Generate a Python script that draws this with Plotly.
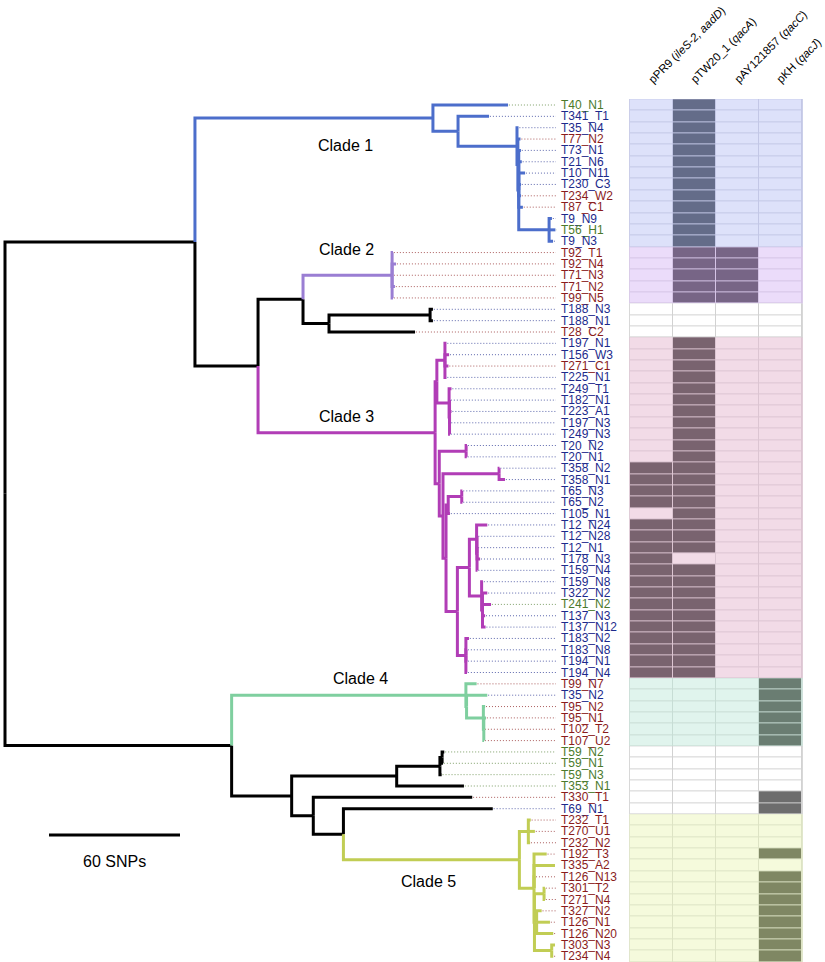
import plotly.graph_objects as go

# ---------------- data ----------------
LEAVES = [
    "T40_N1", "T341_T1", "T35_N4", "T77_N2", "T73_N1", "T21_N6", "T10_N11", "T230_C3", "T234_W2", "T87_C1", "T9_N9", "T56_H1", "T9_N3",
    "T92_T1", "T92_N4", "T71_N3", "T71_N2", "T99_N5",
    "T188_N3", "T188_N1", "T28_C2",
    "T197_N1", "T156_W3", "T271_C1", "T225_N1", "T249_T1", "T182_N1", "T223_A1", "T197_N3", "T249_N3", "T20_N2",
    "T20_N1", "T358_N2", "T358_N1", "T65_N3", "T65_N2", "T105_N1", "T12_N24", "T12_N28", "T12_N1", "T178_N3",
    "T159_N4", "T159_N8", "T322_N2", "T241_N2", "T137_N3", "T137_N12", "T183_N2", "T183_N8", "T194_N1", "T194_N4",
    "T99_N7", "T35_N2", "T95_N2", "T95_N1", "T102_T2", "T107_U2",
    "T59_N2", "T59_N1", "T59_N3", "T353_N1", "T330_T1", "T69_N1",
    "T232_T1", "T270_U1", "T232_N2", "T192_T3", "T335_A2", "T126_N13", "T301_T2", "T271_N4", "T327_N2", "T126_N1",
    "T126_N20", "T303_N3", "T234_N4",
]
LEAF_PARENT = [
    "C1", "C1b", "C1c", "C1x", "C1w", "C1w", "C1w", "C1w", "C1w", "C1w", "C1d", "C1d", "C1d",
    "C2", "C2", "C2", "C2", "C2",
    "F", "F", "E",
    "G1", "G1", "G1", "G1", "G2", "G2b", "G2b", "G2b", "G2b", "T20n",
    "T20n", "T358n", "T358n", "T65n", "T65n", "M", "R1", "R1b", "R1b", "R1b",
    "R1b", "R2", "R2b", "R2b", "R2b", "R2b", "S", "S", "S", "S",
    "C4", "C4a", "C4b", "C4c", "C4c", "C4c",
    "T59nb", "T59nb", "T59n", "DD", "EE", "FF",
    "C5a", "C5a", "C5a", "C5b", "C5b", "C5b", "T301n", "T301n", "LG", "LG",
    "LG", "T303n", "T303n",
]
# distance from root, in SNPs
LEAF_DEPTH = [
    230.4, 221.7, 235.2, 236.1, 236.3, 236.7, 238.2, 236.3, 236.3, 237.2, 250.5, 252.1, 251.0,
    177.7, 179.1, 177.7, 178.6, 177.7,
    196.0, 196.0, 187.8,
    202.2, 203.4, 203.1, 202.2, 204.5, 203.8, 204.5, 204.0, 203.8, 211.6,
    211.5, 226.5, 229.0, 209.5, 209.5, 203.8, 220.9, 216.4, 216.3, 217.6,
    216.4, 218.9, 220.9, 222.6, 219.9, 220.1, 212.5, 211.6, 211.6, 211.6,
    216.0, 220.9, 219.9, 220.3, 219.4, 219.4,
    201.2, 200.6, 200.0, 210.2, 214.0, 223.4,
    240.8, 242.7, 240.5, 248.1, 251.9, 242.8, 247.3, 247.3, 245.8, 249.6,
    251.1, 251.9, 251.1,
]
# b = blue, r = red, g = green label
LEAF_ORIGIN = [
    "g", "b", "b", "r", "b", "b", "b", "b", "r", "r", "b", "g", "b",
    "r", "r", "r", "r", "r",
    "b", "b", "r",
    "b", "b", "r", "b", "b", "b", "b", "b", "b", "b",
    "b", "b", "b", "b", "b", "b", "b", "b", "b", "b",
    "b", "b", "b", "g", "b", "b", "b", "b", "b", "b",
    "r", "b", "r", "r", "r", "r",
    "g", "g", "g", "g", "r", "b",
    "r", "r", "r", "r", "r", "r", "r", "r", "r", "r",
    "r", "r", "r",
]

INODES = ["root", "A", "C1", "C1b", "C1c", "C1x", "C1w", "C1d", "B", "D", "C2", "E", "F",
          "C3", "H", "G1", "G2", "G2b", "K", "T20n", "L", "T358n", "N", "M", "T65n", "P", "Q",
          "R1", "R1b", "R2", "R2b", "S", "BB", "C4", "C4a", "C4b", "C4c", "CC", "DD", "T59n",
          "T59nb", "EE", "FF", "C5", "C5a", "C5b", "X5", "T301n", "LG", "T303n"]
INODE_PARENT = [None, "root", "A", "C1", "C1b", "C1c", "C1x", "C1w", "A", "B", "D", "D", "E",
                "B", "C3", "H", "H", "G2", "C3", "K", "K", "L", "L", "N", "M", "N", "P",
                "Q", "R1", "Q", "R2", "P", "root", "BB", "C4", "C4a", "C4b", "BB", "CC", "DD",
                "T59n", "CC", "EE", "FF", "C5", "C5", "C5b", "X5", "X5", "X5"]
INODE_DEPTH = [0.0, 87.0, 196.0, 207.5, 234.5, 234.9, 235.3, 249.2, 115.9, 136.5, 177.3, 148.4, 194.7,
               197.0, 197.8, 201.5, 203.4, 203.6, 198.9, 211.2, 200.6, 226.3, 202.0, 203.0, 209.2, 207.2, 212.7,
               216.0, 216.2, 218.3, 218.7, 211.1, 103.8, 211.1, 211.4, 219.1, 219.3, 131.3, 179.4, 199.2,
               200.2, 141.2, 155.0, 235.6, 239.7, 242.3, 242.5, 246.9, 243.5, 250.4]

CLADE_ROOTS = ["C1", "C2", "C3", "C4", "C5"]
CLADE_NAMES = ["Clade 1", "Clade 2", "Clade 3", "Clade 4", "Clade 5"]
CLADE_COLORS = ["#4c6ecb", "#9a7ed3", "#b13db6", "#7fcf9f", "#c1cd54"]

ORIGIN_COLORS = {"b": "#1c2a8c", "r": "#8a1c1c", "g": "#4b7a2b"}

PLASMIDS = ["pPR9 (<i>ileS-2, aadD</i>)", "pTW20_1 (<i>qacA</i>)", "pAY121857 (<i>qacC</i>)", "pKH (<i>qacJ</i>)"]
PPR9 = [
    0, 0, 0, 0, 0, 0, 0, 0, 0, 0, 0, 0, 0,
    0, 0, 0, 0, 0,
    0, 0, 0,
    0, 0, 0, 0, 0, 0, 0, 0, 0, 0,
    0, 1, 1, 1, 1, 0, 1, 1, 1, 1,
    1, 1, 1, 1, 1, 1, 1, 1, 1, 1,
    0, 0, 0, 0, 0, 0,
    0, 0, 0, 0, 0, 0,
    0, 0, 0, 0, 0, 0, 0, 0, 0, 0,
    0, 0, 0,
]
PTW20 = [
    1, 1, 1, 1, 1, 1, 1, 1, 1, 1, 1, 1, 1,
    1, 1, 1, 1, 1,
    0, 0, 0,
    1, 1, 1, 1, 1, 1, 1, 1, 1, 1,
    1, 1, 1, 1, 1, 1, 1, 1, 1, 0,
    1, 1, 1, 1, 1, 1, 1, 1, 1, 1,
    0, 0, 0, 0, 0, 0,
    0, 0, 0, 0, 0, 0,
    0, 0, 0, 0, 0, 0, 0, 0, 0, 0,
    0, 0, 0,
]
PAY = [
    0, 0, 0, 0, 0, 0, 0, 0, 0, 0, 0, 0, 0,
    1, 1, 1, 1, 1,
    0, 0, 0,
    0, 0, 0, 0, 0, 0, 0, 0, 0, 0,
    0, 0, 0, 0, 0, 0, 0, 0, 0, 0,
    0, 0, 0, 0, 0, 0, 0, 0, 0, 0,
    0, 0, 0, 0, 0, 0,
    0, 0, 0, 0, 0, 0,
    0, 0, 0, 0, 0, 0, 0, 0, 0, 0,
    0, 0, 0,
]
PKH = [
    0, 0, 0, 0, 0, 0, 0, 0, 0, 0, 0, 0, 0,
    0, 0, 0, 0, 0,
    0, 0, 0,
    0, 0, 0, 0, 0, 0, 0, 0, 0, 0,
    0, 0, 0, 0, 0, 0, 0, 0, 0, 0,
    0, 0, 0, 0, 0, 0, 0, 0, 0, 0,
    1, 1, 1, 1, 1, 1,
    0, 0, 0, 0, 1, 1,
    0, 0, 0, 1, 0, 1, 1, 1, 1, 1,
    1, 1, 1,
]

# heatmap palette per group: 0 = no clade, 1..5 = clades
HM_BG = ["#ffffff", "#dde1fa", "#ebdcfa", "#f2dbe7", "#e0f4ed", "#f5fadc"]
HM_ON = ["#6d6d6d", "#646c89", "#776586", "#79636f", "#6a7d72", "#7f8763"]
HM_SEP = ["#d2d2d2", "#c3c7e6", "#d5c4e6", "#dcc5d2", "#c7ddd5", "#dde3c4"]

SCALE_SNPS = 60

# ---------------- layout helpers (pixel mapping) ----------------
PX_PER_SNP = 131.0 / 60.0
ROOT_PX = 5.0
ROW_PX = 11.35
FIRST_ROW_PX = 105.0
W, H = 825, 962
COL_W = 43.0
COL0_PX = 651.5

# ---------------- tree computations ----------------
parent = dict(zip(INODES, INODE_PARENT))
parent.update(dict(zip(LEAVES, LEAF_PARENT)))
depth = dict(zip(INODES, INODE_DEPTH))
depth.update(dict(zip(LEAVES, LEAF_DEPTH)))
leaf_idx = {n: i for i, n in enumerate(LEAVES)}
children = {n: [] for n in INODES}
for n, p in parent.items():
    if p is not None:
        children[p].append(n)

minleaf = {}
def get_min(n):
    if n in leaf_idx:
        return leaf_idx[n]
    if n not in minleaf:
        minleaf[n] = min(get_min(c) for c in children[n])
    return minleaf[n]

ypos = {}
def get_y(n):
    if n in leaf_idx:
        return float(leaf_idx[n])
    if n not in ypos:
        ch = sorted(children[n], key=get_min)
        ypos[n] = (get_y(ch[0]) + get_y(ch[-1])) / 2.0
    return ypos[n]

def clade_of(n):
    while n is not None:
        if n in CLADE_ROOTS:
            return CLADE_ROOTS.index(n) + 1
        n = parent[n]
    return 0

fig = go.Figure()

# branches
edge_x = {k: [] for k in range(6)}
edge_y = {k: [] for k in range(6)}
for n, p in parent.items():
    if p is None:
        continue
    k = clade_of(n)
    edge_x[k] += [depth[p], depth[p], depth[n], None]
    edge_y[k] += [get_y(p), get_y(n), get_y(n), None]

# leader lines
LEADER_END = (556.0 - ROOT_PX) / PX_PER_SNP
for o, col in ORIGIN_COLORS.items():
    lx, ly = [], []
    for i, n in enumerate(LEAVES):
        if LEAF_ORIGIN[i] == o:
            lx += [depth[n] + 0.4, LEADER_END, None]
            ly += [i, i, None]
    fig.add_trace(go.Scatter(x=lx, y=ly, mode="lines", line=dict(color=col, width=1, dash="1px,2px"),
                             opacity=0.7, hoverinfo="skip", showlegend=False))

for k in range(6):
    col = "#000000" if k == 0 else CLADE_COLORS[k - 1]
    fig.add_trace(go.Scatter(x=edge_x[k], y=edge_y[k], mode="lines",
                             line=dict(color=col, width=3), hoverinfo="skip", showlegend=False))

# scale bar
SCALE_X0 = (49.0 - ROOT_PX) / PX_PER_SNP
SCALE_Y = (835.0 - FIRST_ROW_PX) / ROW_PX
fig.add_trace(go.Scatter(x=[SCALE_X0, SCALE_X0 + SCALE_SNPS], y=[SCALE_Y, SCALE_Y], mode="lines",
                         line=dict(color="black", width=3), hoverinfo="skip", showlegend=False))

# heatmap
groups = [clade_of(n) for n in LEAVES]
cols = [PPR9, PTW20, PAY, PKH]
z = [[groups[i] * 2 + cols[j][i] for j in range(4)] for i in range(len(LEAVES))]
cscale = []
for k in range(12):
    c = HM_ON[k // 2] if k % 2 else HM_BG[k // 2]
    cscale += [[k / 12.0, c], [(k + 1) / 12.0, c]]
fig.add_trace(go.Heatmap(z=z, x=[0, 1, 2, 3], y=list(range(len(LEAVES))), colorscale=cscale,
                         zmin=-0.5, zmax=11.5, showscale=False, xgap=1, ygap=1,
                         hoverinfo="skip", xaxis="x2", yaxis="y"))

# separator backgrounds per group run
shapes = []
start = 0
for i in range(1, len(LEAVES) + 1):
    if i == len(LEAVES) or groups[i] != groups[start]:
        g = groups[start]
        shapes.append(dict(type="rect", xref="x2", yref="y", x0=-0.52, x1=3.52, y0=start - 0.52, y1=i - 1 + 0.52,
                           fillcolor=HM_SEP[g], line=dict(width=0), layer="below"))
        start = i

FONT = "Liberation Sans, Arial, Helvetica, sans-serif"
annotations = []
LABEL_X = (559.5 - ROOT_PX) / PX_PER_SNP
for i, n in enumerate(LEAVES):
    annotations.append(dict(x=LABEL_X, y=i, xref="x", yref="y", text=n, showarrow=False, xanchor="left",
                            yanchor="middle", borderpad=0,
                            font=dict(family=FONT, size=12, color=ORIGIN_COLORS[LEAF_ORIGIN[i]])))

CLADE_LABEL_PX = [(345, 145), (346, 249), (346, 416), (360, 678), (428, 881)]
for name, (px, py) in zip(CLADE_NAMES, CLADE_LABEL_PX):
    annotations.append(dict(x=(px - ROOT_PX) / PX_PER_SNP, y=(py - FIRST_ROW_PX) / ROW_PX, xref="x", yref="y",
                            text=name, showarrow=False, font=dict(family=FONT, size=16, color="black")))
annotations.append(dict(x=SCALE_X0 + SCALE_SNPS / 2, y=(861 - FIRST_ROW_PX) / ROW_PX, xref="x", yref="y",
                        text=f"{SCALE_SNPS} SNPs", showarrow=False, font=dict(family=FONT, size=16, color="black")))

HEADER_Y = (88 - FIRST_ROW_PX) / ROW_PX
for j, t in enumerate(PLASMIDS):
    annotations.append(dict(x=j - 0.2, y=HEADER_Y, xref="x2", yref="y", text=t, showarrow=False,
                            xanchor="left", yanchor="bottom", textangle=-45,
                            font=dict(family=FONT, size=11.5, color="black")))

fig.update_layout(
    width=W, height=H, margin=dict(l=0, r=0, t=0, b=0, pad=0),
    plot_bgcolor="white", paper_bgcolor="white", showlegend=False,
    xaxis=dict(range=[-ROOT_PX / PX_PER_SNP, (W - ROOT_PX) / PX_PER_SNP], visible=False, fixedrange=True),
    xaxis2=dict(range=[-COL0_PX / COL_W, (W - COL0_PX) / COL_W], overlaying="x", anchor="y", visible=False),
    yaxis=dict(range=[(H - FIRST_ROW_PX) / ROW_PX, -FIRST_ROW_PX / ROW_PX], visible=False),
    shapes=shapes, annotations=annotations,
)

fig.write_html("out.html", config={"displayModeBar": False},
               post_script="document.body.style.margin='0';document.body.style.overflow='hidden';")
